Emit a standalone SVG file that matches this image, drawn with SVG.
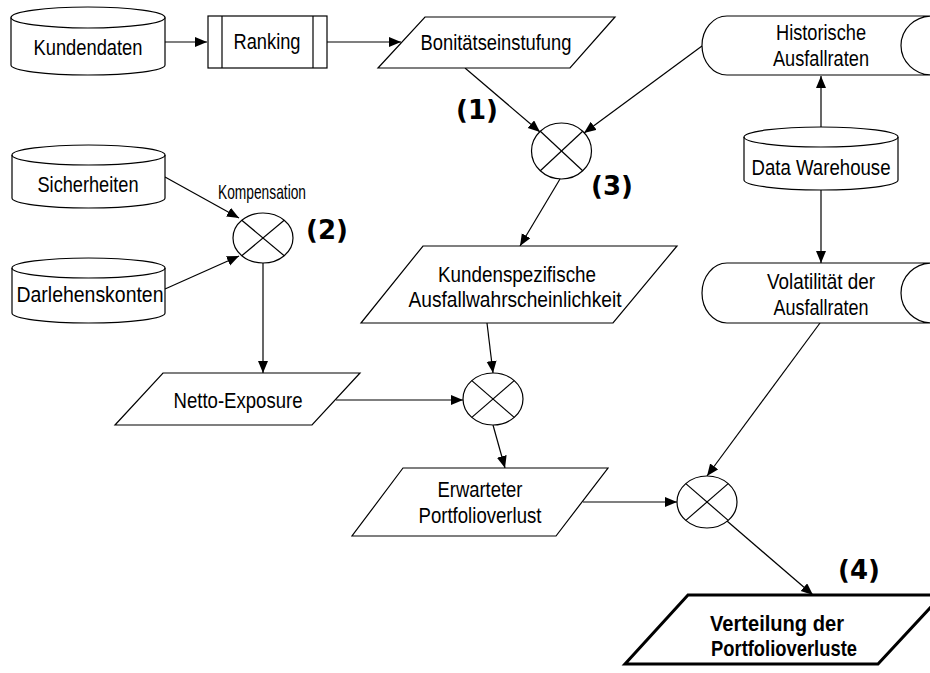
<svg xmlns="http://www.w3.org/2000/svg" width="930" height="673" viewBox="0 0 930 673">
<defs>
<marker id="arr" markerUnits="userSpaceOnUse" markerWidth="13" markerHeight="11" refX="12" refY="5" orient="auto">
<path d="M0,0 L12,5 L0,10 Z" fill="#000"/>
</marker>
<style>
.s{fill:#fff;stroke:#000;stroke-width:1.2}
.t{font-family:"Liberation Sans",Arial,sans-serif;font-size:22px;text-anchor:middle;fill:#000}
.b{font-weight:bold}
.n{font-family:"DejaVu Sans",sans-serif;font-weight:bold;font-size:26px;text-anchor:middle;fill:#000}
.c{fill:none;stroke:#000;stroke-width:1.2;marker-end:url(#arr)}
.x{fill:none;stroke:#000;stroke-width:1.2}
</style>
</defs>
<rect width="930" height="673" fill="#fff"/>
<g id="connectors">
<line class="c" x1="165" y1="42" x2="207" y2="42"/>
<line class="c" x1="327" y1="42" x2="401" y2="42"/>
<line class="c" x1="465" y1="68" x2="540" y2="132"/>
<line class="c" x1="702" y1="46" x2="584" y2="133"/>
<line class="c" x1="821" y1="127" x2="821" y2="76"/>
<line class="c" x1="821" y1="190" x2="821" y2="263"/>
<line class="c" x1="560" y1="179" x2="520" y2="246"/>
<line class="c" x1="165" y1="177" x2="239" y2="218"/>
<line class="c" x1="165" y1="289" x2="239" y2="256"/>
<line class="c" x1="263" y1="263" x2="263" y2="373"/>
<line class="c" x1="336" y1="400" x2="463" y2="400"/>
<line class="c" x1="487" y1="323" x2="493" y2="373"/>
<line class="c" x1="493" y1="425" x2="505" y2="468"/>
<line class="c" x1="583" y1="502" x2="677" y2="502"/>
<line class="c" x1="820" y1="323" x2="707" y2="476"/>
<line class="c" x1="727" y1="521" x2="813" y2="595"/>
</g>
<g id="kundendaten">
<path class="s" d="M11,17.5 L11,65 A77,10 0 0 0 165,65 L165,17.5 A77,10.5 0 0 0 11,17.5 Z"/>
<path class="x" d="M11,17.5 A77,10.5 0 0 0 165,17.5"/>
<text class="t" x="88" y="55" textLength="109" lengthAdjust="spacingAndGlyphs">Kundendaten</text>
</g>
<g id="ranking">
<rect class="s" x="208" y="16" width="119" height="52"/>
<line class="x" x1="222" y1="16" x2="222" y2="68"/>
<line class="x" x1="313" y1="16" x2="313" y2="68"/>
<text class="t" x="267" y="49" textLength="67" lengthAdjust="spacingAndGlyphs">Ranking</text>
</g>
<g id="bonitaet">
<path class="s" d="M425,17 L615,17 L570,68 L378,68 Z"/>
<text class="t" x="496" y="50" textLength="151" lengthAdjust="spacingAndGlyphs">Bonitätseinstufung</text>
</g>
<g id="historische">
<path class="s" d="M727,16 L932,16 A31,29.5 0 0 0 932,75 L727,75 A25,29.5 0 0 1 727,16 Z"/>
<text class="t" x="821" y="40" textLength="90" lengthAdjust="spacingAndGlyphs">Historische</text>
<text class="t" x="821" y="66" textLength="96" lengthAdjust="spacingAndGlyphs">Ausfallraten</text>
</g>
<g id="datawarehouse">
<path class="s" d="M744,137 L744,180 A77,10 0 0 0 898,180 L898,137 A77,10 0 0 0 744,137 Z"/>
<path class="x" d="M744,137 A77,10 0 0 0 898,137"/>
<text class="t" x="821" y="175" textLength="139" lengthAdjust="spacingAndGlyphs">Data Warehouse</text>
</g>
<g id="volatilitaet">
<path class="s" d="M727,263 L932,263 A31,30 0 0 0 932,323 L727,323 A25,30 0 0 1 727,263 Z"/>
<text class="t" x="821" y="289" textLength="108" lengthAdjust="spacingAndGlyphs">Volatilität der</text>
<text class="t" x="821" y="315" textLength="95" lengthAdjust="spacingAndGlyphs">Ausfallraten</text>
</g>
<g id="sicherheiten">
<path class="s" d="M12,155 L12,198 A76.5,10 0 0 0 165,198 L165,155 A76.5,10 0 0 0 12,155 Z"/>
<path class="x" d="M12,155 A76.5,10 0 0 0 165,155"/>
<text class="t" x="88" y="192" textLength="101" lengthAdjust="spacingAndGlyphs">Sicherheiten</text>
</g>
<g id="darlehenskonten">
<path class="s" d="M12,268 L12,313 A76.5,10 0 0 0 165,313 L165,268 A76.5,10 0 0 0 12,268 Z"/>
<path class="x" d="M12,268 A76.5,10 0 0 0 165,268"/>
<text class="t" x="90" y="302" textLength="147" lengthAdjust="spacingAndGlyphs">Darlehenskonten</text>
</g>
<g id="op1">
<ellipse class="s" cx="561.5" cy="151" rx="30" ry="28"/>
<line class="x" x1="540.3" y1="131.2" x2="582.7" y2="170.8"/>
<line class="x" x1="582.7" y1="131.2" x2="540.3" y2="170.8"/>
</g>
<g id="op2">
<ellipse class="s" cx="263" cy="238" rx="30" ry="25"/>
<line class="x" x1="241.8" y1="220.3" x2="284.2" y2="255.7"/>
<line class="x" x1="284.2" y1="220.3" x2="241.8" y2="255.7"/>
<text class="t" x="262" y="199" style="font-size:21px" textLength="88" lengthAdjust="spacingAndGlyphs">Kompensation</text>
</g>
<g id="op3">
<ellipse class="s" cx="493" cy="399" rx="30" ry="26"/>
<line class="x" x1="471.8" y1="380.6" x2="514.2" y2="417.4"/>
<line class="x" x1="514.2" y1="380.6" x2="471.8" y2="417.4"/>
</g>
<g id="op4">
<ellipse class="s" cx="707" cy="502" rx="30" ry="26"/>
<line class="x" x1="685.8" y1="483.6" x2="728.2" y2="520.4"/>
<line class="x" x1="728.2" y1="483.6" x2="685.8" y2="520.4"/>
</g>
<g id="kundenspezifisch">
<path class="s" d="M423,246 L677,246 L613,323 L361,323 Z"/>
<text class="t" x="517" y="282" textLength="158" lengthAdjust="spacingAndGlyphs">Kundenspezifische</text>
<text class="t" x="515" y="307" textLength="213" lengthAdjust="spacingAndGlyphs">Ausfallwahrscheinlichkeit</text>
</g>
<g id="netto">
<path class="s" d="M163,373 L360,373 L312,425 L115,425 Z"/>
<text class="t" x="238" y="408" textLength="129" lengthAdjust="spacingAndGlyphs">Netto-Exposure</text>
</g>
<g id="erwartet">
<path class="s" d="M403,468 L608,468 L556,536 L352,536 Z"/>
<text class="t" x="480" y="497" textLength="85" lengthAdjust="spacingAndGlyphs">Erwarteter</text>
<text class="t" x="480" y="523" textLength="123" lengthAdjust="spacingAndGlyphs">Portfolioverlust</text>
</g>
<g id="verteilung">
<path class="s" style="stroke-width:3" d="M688,595 L942,595 L878,664 L625,664 Z"/>
<text class="t b" x="777" y="631" textLength="134" lengthAdjust="spacingAndGlyphs">Verteilung der</text>
<text class="t b" x="784" y="656" textLength="146" lengthAdjust="spacingAndGlyphs">Portfolioverluste</text>
</g>
<g id="labels">
<text class="n" x="477" y="119">(1)</text>
<text class="n" x="327" y="239">(2)</text>
<text class="n" x="612" y="195">(3)</text>
<text class="n" x="859" y="579">(4)</text>
</g>
</svg>
